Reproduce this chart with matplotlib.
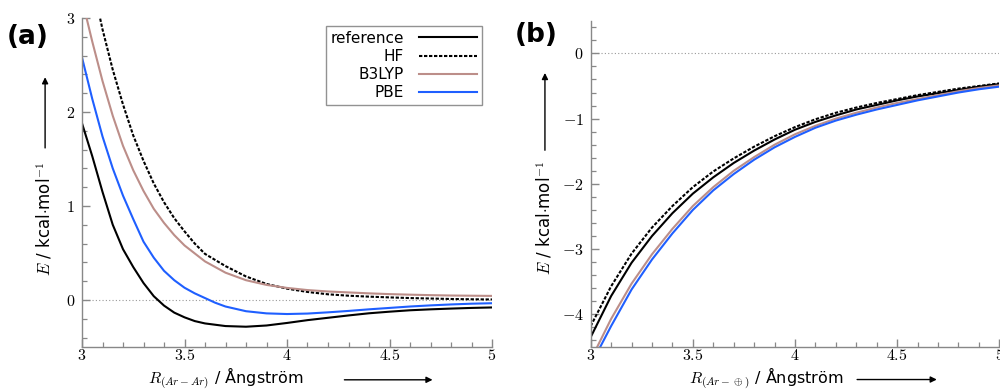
import matplotlib
matplotlib.use("Agg")
import matplotlib.pyplot as plt
from matplotlib.ticker import MultipleLocator, FuncFormatter

plt.rcParams['font.family'] = ['DejaVu Sans']
plt.rcParams['mathtext.fontset'] = 'cm'

# ---------------- data: panel (a) Ar-Ar ----------------
ref_a_x = [3.0, 3.05, 3.1, 3.15, 3.2, 3.25, 3.3, 3.35, 3.4, 3.45, 3.5, 3.55, 3.6, 3.7, 3.8, 3.9,
           4.0, 4.1, 4.2, 4.3, 4.4, 4.5, 4.6, 4.7, 4.8, 4.9, 5.0]
ref_a_y = [1.88, 1.53, 1.15, 0.80, 0.54, 0.35, 0.18, 0.04, -0.06, -0.135, -0.185, -0.225, -0.25, -0.278, -0.285, -0.272,
           -0.245, -0.215, -0.19, -0.165, -0.142, -0.125, -0.11, -0.1, -0.092, -0.085, -0.08]

hf_a_x = [3.05, 3.08, 3.1, 3.15, 3.2, 3.25, 3.3, 3.35, 3.4, 3.45, 3.5, 3.55, 3.6, 3.7, 3.8, 3.9,
          4.0, 4.1, 4.2, 4.3, 4.4, 4.5, 4.6, 4.7, 4.8, 4.9, 5.0]
hf_a_y = [3.45, 3.08, 2.88, 2.45, 2.08, 1.75, 1.48, 1.24, 1.04, 0.87, 0.73, 0.60, 0.49, 0.36, 0.25, 0.17,
          0.12, 0.085, 0.06, 0.045, 0.035, 0.027, 0.02, 0.015, 0.01, 0.007, 0.005]

b3_a_x = [3.0, 3.05, 3.1, 3.15, 3.2, 3.25, 3.3, 3.35, 3.4, 3.45, 3.5, 3.6, 3.7, 3.8, 3.9,
          4.0, 4.1, 4.2, 4.3, 4.4, 4.5, 4.6, 4.7, 4.8, 4.9, 5.0]
b3_a_y = [3.2, 2.75, 2.33, 1.96, 1.64, 1.38, 1.16, 0.97, 0.82, 0.69, 0.58, 0.41, 0.29, 0.21, 0.16,
          0.128, 0.105, 0.09, 0.08, 0.07, 0.062, 0.056, 0.051, 0.047, 0.045, 0.043]

pbe_a_x = [3.0, 3.05, 3.1, 3.15, 3.2, 3.25, 3.3, 3.35, 3.4, 3.45, 3.5, 3.55, 3.6, 3.65, 3.7, 3.8, 3.9,
           4.0, 4.1, 4.2, 4.3, 4.4, 4.5, 4.6, 4.7, 4.8, 4.9, 5.0]
pbe_a_y = [2.58, 2.14, 1.74, 1.40, 1.11, 0.86, 0.62, 0.45, 0.31, 0.21, 0.13, 0.07, 0.02, -0.03, -0.07, -0.12, -0.143,
           -0.15, -0.145, -0.132, -0.117, -0.10, -0.085, -0.07, -0.058, -0.048, -0.04, -0.035]

# ---------------- data: panel (b) Ar-(+) ----------------
b_x = [3.0, 3.1, 3.2, 3.3, 3.4, 3.5, 3.6, 3.7, 3.8, 3.9, 4.0, 4.1, 4.2, 4.3, 4.4, 4.5, 4.6, 4.7, 4.8, 4.9, 5.0]
ref_b_y = [-4.35, -3.72, -3.21, -2.80, -2.45, -2.15, -1.90, -1.68, -1.49, -1.32, -1.17, -1.05, -0.95, -0.86, -0.79,
           -0.72, -0.66, -0.61, -0.56, -0.51, -0.47]
hf_b_y = [-4.18, -3.57, -3.07, -2.67, -2.34, -2.05, -1.81, -1.61, -1.43, -1.27, -1.13, -1.01, -0.91, -0.83, -0.76,
          -0.70, -0.64, -0.59, -0.54, -0.50, -0.46]
b3_b_y = [-4.70, -4.07, -3.53, -3.08, -2.69, -2.34, -2.05, -1.80, -1.59, -1.40, -1.24, -1.11, -1.00, -0.91, -0.83,
          -0.76, -0.70, -0.64, -0.58, -0.53, -0.49]
pbe_b_y = [-4.78, -4.18, -3.62, -3.16, -2.76, -2.40, -2.10, -1.85, -1.63, -1.44, -1.28, -1.14, -1.03, -0.94, -0.86,
           -0.79, -0.72, -0.66, -0.60, -0.55, -0.51]

labels = ["reference", "HF", "B3LYP", "PBE"]
colors = ["black", "black", "#bc8e89", "#1f5fff"]
styles = ["-", (0, (1.6, 0.8)), "-", "-"]
lw = 1.5

fig = plt.figure(figsize=(10, 3.92), dpi=100)
axA = fig.add_axes([0.082, 0.115, 0.410, 0.839])
axB = fig.add_axes([0.5907, 0.115, 0.4086, 0.832])

fmt = FuncFormatter(lambda v, p: "$%g$" % v)


def style_axes(ax):
    for s in ["top", "right"]:
        ax.spines[s].set_visible(False)
    for s in ["left", "bottom"]:
        ax.spines[s].set_color("#888888")
        ax.spines[s].set_linewidth(1.0)
    ax.xaxis.set_major_locator(MultipleLocator(0.5))
    ax.xaxis.set_minor_locator(MultipleLocator(0.1))
    ax.yaxis.set_major_locator(MultipleLocator(1))
    ax.yaxis.set_minor_locator(MultipleLocator(0.2))
    ax.xaxis.set_major_formatter(fmt)
    ax.yaxis.set_major_formatter(fmt)
    ax.tick_params(which="both", direction="in", color="#888888", labelsize=11.5)
    ax.tick_params(which="major", length=6, width=1.0)
    ax.tick_params(which="minor", length=3.5, width=0.9)
    ax.tick_params(axis="x", pad=1)
    ax.tick_params(axis="y", pad=5)
    ax.axhline(0, color="#999999", lw=0.8, ls=(0, (1, 2)), zorder=0)
    ax.set_xlim(3, 5)


# panel (a)
style_axes(axA)
axA.set_ylim(-0.5, 3)
series_a = [(ref_a_x, ref_a_y), (hf_a_x, hf_a_y), (b3_a_x, b3_a_y), (pbe_a_x, pbe_a_y)]
handles = []
for (xs, ys), lab, c, st in zip(series_a, labels, colors, styles):
    h, = axA.plot(xs, ys, color=c, ls=st, lw=lw, label=lab)
    handles.append(h)
leg = axA.legend(handles=handles, loc="upper right", bbox_to_anchor=(0.975, 0.975), markerfirst=False,
                 fontsize=11, frameon=True, fancybox=False, edgecolor="#777777", handlelength=3.8,
                 borderpad=0.3, labelspacing=0.2, handletextpad=1.0, borderaxespad=0)
leg.get_frame().set_linewidth(1.0)
for t in leg.get_texts():
    t.set_ha("right")
leg._legend_box.align = "right"

# panel (b)
style_axes(axB)
axB.set_ylim(-4.5, 0.5)
for ys, lab, c, st in zip([ref_b_y, hf_b_y, b3_b_y, pbe_b_y], labels, colors, styles):
    axB.plot(b_x, ys, color=c, ls=st, lw=lw, label=lab)

# axis labels with arrows
arrowprops = dict(arrowstyle="-|>", color="black", lw=1.0, mutation_scale=9, shrinkA=0, shrinkB=0)


def add_labels(ax, xlab, xtext, xarr, ytext, yarr, yx):
    ax.text(xtext, -0.113, xlab, transform=ax.transAxes, ha="center", va="baseline", fontsize=11.5)
    ax.annotate("", xy=(xarr[1], -0.1), xytext=(xarr[0], -0.1), xycoords="axes fraction",
                textcoords="axes fraction", arrowprops=arrowprops, annotation_clip=False)
    ax.text(yx, ytext, r"$E$ / kcal$\cdot$mol$^{-1}$", transform=ax.transAxes, ha="center", va="center",
            rotation=90, fontsize=12)
    ax.annotate("", xy=(yx, yarr[1]), xytext=(yx, yarr[0]), xycoords="axes fraction",
                textcoords="axes fraction", arrowprops=arrowprops, annotation_clip=False)


add_labels(axA, r"$R_{(Ar-Ar)}$ / Ångström", 0.35, (0.64, 0.855), 0.39, (0.605, 0.82), -0.09)
add_labels(axB, r"$R_{(Ar-\oplus)}$ / Ångström", 0.43, (0.652, 0.847), 0.395, (0.603, 0.84), -0.112)

fig.text(0.028, 0.905, "(a)", fontsize=19, fontweight="bold", ha="center", va="center")
fig.text(0.536, 0.91, "(b)", fontsize=19, fontweight="bold", ha="center", va="center")

fig.savefig("out.png", dpi=100)
